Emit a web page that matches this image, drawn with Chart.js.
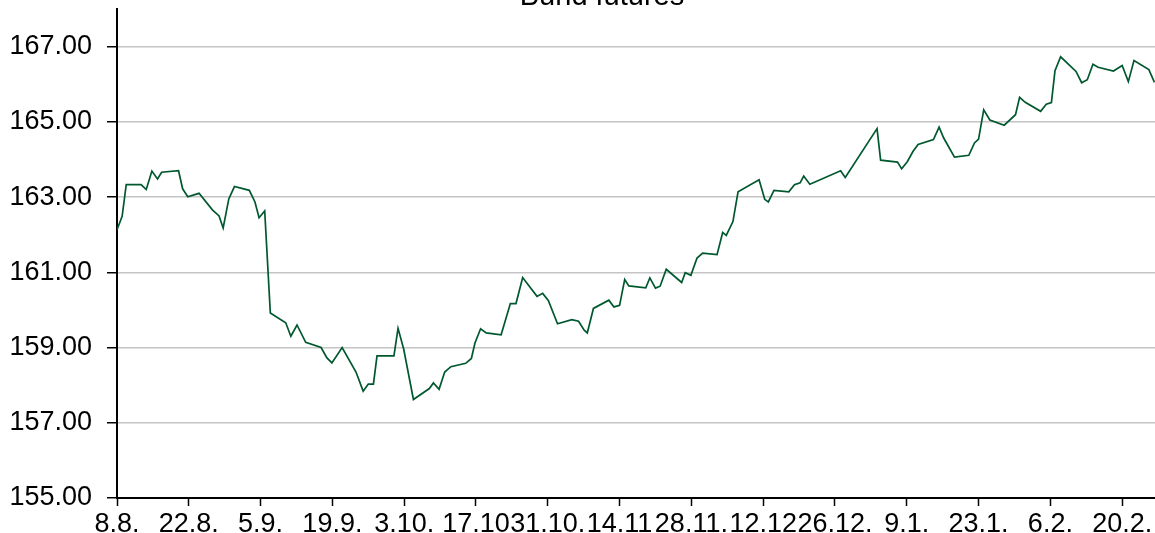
<!DOCTYPE html>
<html>
<head>
<meta charset="utf-8">
<script src="https://cdn.jsdelivr.net/npm/chart.js@4"></script>
<style>
  html, body { margin: 0; padding: 0; background: #fff; }
  #wrap { width: 1155px; height: 533px; position: relative; }
</style>
</head>
<body>
<div id="wrap"><canvas id="grafico"></canvas></div>
<script>
// days counted from 8.8.
const days = [
  0.0, 1.0, 1.8, 4.7, 5.7, 6.8, 7.9, 8.7, 12.0, 12.8, 13.8, 16.0, 18.6, 19.9, 20.7, 21.8, 22.9, 25.8, 26.9, 27.7,
  28.8, 29.9, 32.9, 33.9, 35.1, 36.8, 39.8, 40.9, 41.9, 43.9, 46.6, 48.0, 49.0, 50.0, 50.7, 54.0, 54.8, 55.9, 57.8, 60.9,
  61.7, 62.8, 63.9, 65.1, 68.0, 69.1, 69.8, 70.9, 72.0, 74.9, 76.7, 77.8, 79.1, 81.9, 83.0, 84.1, 85.9, 88.7, 90.0, 91.1,
  91.7, 92.9, 95.9, 96.9, 98.0, 99.0, 99.8, 103.1, 103.9, 105.0, 105.9, 107.1, 110.1, 110.8, 111.9, 113.1, 114.2, 117.0, 118.1, 118.8,
  120.1, 121.1, 125.2, 126.3, 127.0, 128.1, 131.0, 132.1, 133.2, 133.9, 135.1, 141.1, 142.0, 148.2, 148.9, 152.2, 153.0, 154.1, 155.2, 156.2,
  159.2, 160.3, 161.2, 163.3, 166.1, 167.2, 168.0, 169.0, 170.2, 173.0, 175.2, 176.0, 177.1, 180.1, 181.2, 182.2, 182.9, 184.0, 187.0, 188.1,
  189.2, 190.3, 191.3, 194.3, 196.0, 197.2, 198.3, 201.2, 202.3
];
const prices = [
  162.13, 162.49, 163.33, 163.33, 163.20, 163.69, 163.48, 163.66, 163.70, 163.22, 163.01, 163.10, 162.66, 162.50, 162.18, 162.95, 163.28, 163.18, 162.87, 162.45,
  162.63, 159.92, 159.66, 159.30, 159.60, 159.14, 159.00, 158.73, 158.59, 159.00, 158.35, 157.84, 158.03, 158.03, 158.78, 158.78, 159.51, 158.96, 157.62, 157.91,
  158.06, 157.89, 158.35, 158.49, 158.58, 158.71, 159.12, 159.50, 159.39, 159.34, 160.17, 160.17, 160.86, 160.36, 160.44, 160.25, 159.63, 159.74, 159.70, 159.46,
  159.39, 160.04, 160.26, 160.08, 160.12, 160.81, 160.64, 160.59, 160.85, 160.58, 160.63, 161.08, 160.73, 160.99, 160.92, 161.38, 161.51, 161.47, 162.06, 161.98,
  162.35, 163.14, 163.46, 162.94, 162.87, 163.18, 163.14, 163.33, 163.38, 163.56, 163.34, 163.70, 163.52, 164.82, 163.98, 163.93, 163.75, 163.94, 164.21, 164.40,
  164.53, 164.86, 164.57, 164.06, 164.11, 164.44, 164.54, 165.32, 165.05, 164.91, 165.19, 165.65, 165.52, 165.28, 165.47, 165.51, 166.36, 166.73, 166.34, 166.04,
  166.12, 166.53, 166.45, 166.35, 166.50, 166.07, 166.63, 166.39, 166.05
];

const xTickDays = [0, 14, 28, 42, 56, 70, 84, 98, 112, 126, 140, 154, 168, 182, 196];
const xTickLabels = ['8.8.', '22.8.', '5.9.', '19.9.', '3.10.', '17.10', '31.10.', '14.11', '28.11.', '12.12', '26.12.', '9.1.', '23.1.', '6.2.', '20.2.'];
const yTicks = [155, 157, 159, 161, 163, 165, 167];
const chartTitle = 'Bund futures';

Chart.defaults.font.family = '"Liberation Sans", Arial, sans-serif';
Chart.defaults.color = '#000';

// title sits mostly above the canvas, only its lower edge shows
const cutTitle = {
    id: 'cutTitle',
    afterDraw(chart) {
        const c = chart.ctx;
        c.save();
        c.font = '29px "Liberation Sans", Arial, sans-serif';
        c.fillStyle = '#000';
        c.textAlign = 'center';
        c.textBaseline = 'alphabetic';
        c.fillText(chartTitle, 602, 5);
        c.restore();
    }
};

const ctx = document.getElementById('grafico');
new Chart(ctx, {
    type: 'line',
    data: {
        datasets: [{
            label: chartTitle,
            data: days.map((d, i) => ({ x: d, y: prices[i] })),
            borderColor: '#00582e',
            borderWidth: 1.7,
            pointRadius: 0,
            tension: 0
        }]
    },
    options: {
        responsive: true,
        maintainAspectRatio: false,
        animation: false,
        layout: { padding: { top: 9, left: 0, right: 0, bottom: 0 } },
        plugins: {
            legend: { display: false },
            tooltip: { enabled: false }
        },
        scales: {
            x: {
                type: 'linear',
                min: 0,
                max: 202.4,
                afterBuildTicks: (scale) => { scale.ticks = xTickDays.map(v => ({ value: v })); },
                afterFit: (scale) => { scale.height = 35; scale.paddingLeft = 0; scale.paddingRight = 0; },
                grid: {
                    drawOnChartArea: false,
                    drawTicks: true,
                    tickLength: 8,
                    tickColor: '#000',
                    tickWidth: 1.5
                },
                border: { display: true, color: '#000', width: 2 },
                ticks: {
                    autoSkip: false,
                    maxRotation: 0,
                    minRotation: 0,
                    padding: 2,
                    font: { size: 27 },
                    callback: (value, index) => xTickLabels[index]
                }
            },
            y: {
                min: 155,
                max: 168,
                afterBuildTicks: (scale) => { scale.ticks = yTicks.map(v => ({ value: v })); },
                afterFit: (scale) => { scale.width = 117; scale.paddingTop = 0; scale.paddingBottom = 0; },
                grid: {
                    color: '#c4c4c4',
                    lineWidth: 1.5,
                    drawTicks: true,
                    tickLength: 10,
                    tickColor: '#000',
                    tickWidth: 1.5
                },
                border: { display: true, color: '#000', width: 2 },
                ticks: {
                    padding: 15,
                    font: { size: 27 },
                    callback: (value) => value.toFixed(2)
                }
            }
        }
    },
    plugins: [cutTitle]
});
</script>
</body>
</html>
